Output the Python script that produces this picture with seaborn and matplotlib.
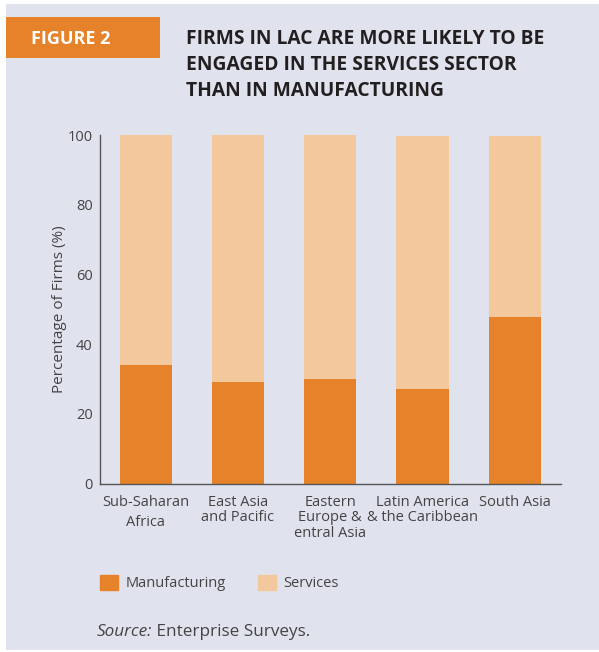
import matplotlib
matplotlib.use("Agg")
import matplotlib.pyplot as plt
import matplotlib.patches as mpatches
import seaborn as sns
import pandas as pd

# ---- data ----
regions = ["Sub-Saharan\nAfrica", "East Asia\nand Pacific", "Eastern\nEurope &\nentral Asia",
           "Latin America\n& the Caribbean", "South Asia"]
manufacturing = [34.0, 29.1, 30.0, 27.1, 47.8]
services = [66.0, 70.9, 70.0, 72.7, 52.0]
y_ticks = [0, 20, 40, 60, 80, 100]

C_MAN = "#E6822A"
C_SER = "#F4C89D"
BG = "#E0E3EE"
TXT = "#444444"

sns.set_style("white")
plt.rcParams["font.family"] = ["Open Sans", "DejaVu Sans"]

df = pd.DataFrame({"region": regions,
                   "Manufacturing": manufacturing,
                   "Services": services})
df["total"] = df["Manufacturing"] + df["Services"]

W, H = 599, 652
fig = plt.figure(figsize=(W / 100, H / 100), dpi=100)
fig.patch.set_facecolor("white")
# background panel
fig.patches.append(mpatches.Rectangle((6 / W, 1 - 650 / H), 1, (650 - 4) / H,
                                      transform=fig.transFigure, facecolor=BG,
                                      edgecolor="none", zorder=-10))
# orange header box
fig.patches.append(mpatches.Rectangle((6 / W, 1 - 58 / H), (160 - 6) / W, (58 - 17) / H,
                                      transform=fig.transFigure, facecolor=C_MAN,
                                      edgecolor="none", zorder=-5))
fig.text(31 / W, 1 - 39 / H, "FIGURE 2", color="white", fontsize=13,
         fontweight="bold", va="center", ha="left", zorder=2)

title_lines = ["FIRMS IN LAC ARE MORE LIKELY TO BE",
               "ENGAGED IN THE SERVICES SECTOR",
               "THAN IN MANUFACTURING"]
for i, line in enumerate(title_lines):
    fig.text(186 / W, 1 - (39.5 + 25.5 * i) / H, line, color="#231F20",
             fontsize=13.9, fontweight="bold", va="center", ha="left")

ax = fig.add_axes([99.5 / W, 1 - 483.5 / H, (561 - 99.5) / W, (483.5 - 135.3) / H])
ax.set_facecolor("none")

sns.barplot(data=df, x="region", y="total", color=C_SER, width=0.565,
            saturation=1, ax=ax, label="Services", linewidth=0, edgecolor="none")
sns.barplot(data=df, x="region", y="Manufacturing", color=C_MAN, width=0.565,
            saturation=1, ax=ax, label="Manufacturing", linewidth=0, edgecolor="none")
if ax.get_legend() is not None:
    ax.get_legend().remove()

ax.set_xlim(-0.5, 4.5)
ax.set_ylim(0, 100)
ax.set_yticks(y_ticks)
ax.set_yticklabels([str(v) for v in y_ticks])
ax.set_xlabel("")
ax.set_ylabel("Percentage of Firms (%)", color=TXT, fontsize=11, labelpad=0.5)
ax.tick_params(axis="both", length=0, colors=TXT, labelsize=10.5)
ax.tick_params(axis="y", pad=5)
ax.tick_params(axis="x", pad=8)
for lbl in ax.get_xticklabels():
    lbl.set_linespacing(1.05)
ax.get_xticklabels()[0].set_linespacing(1.45)

for s in ["top", "right"]:
    ax.spines[s].set_visible(False)
for s in ["left", "bottom"]:
    ax.spines[s].set_color("#555555")
    ax.spines[s].set_linewidth(1.0)

# legend
handles = [mpatches.Patch(color=C_MAN, label="Manufacturing"),
           mpatches.Patch(color=C_SER, label="Services")]
leg = fig.legend(handles=handles, loc="center left",
                 bbox_to_anchor=(100 / W, 1 - 583 / H), ncol=2, frameon=False,
                 fontsize=10.5, handlelength=1.25, handleheight=1.25,
                 handletextpad=0.5, columnspacing=2.2, borderpad=0, borderaxespad=0)
for t in leg.get_texts():
    t.set_color(TXT)

# source line
src = fig.text(97 / W, 1 - 632 / H, "Source:", style="italic", color=TXT,
               fontsize=12.3, va="center", ha="left")
ax.annotate(" Enterprise Surveys.", xy=(1, 0.5), xycoords=src, va="center",
            ha="left", color=TXT, fontsize=12.3, annotation_clip=False)

fig.savefig("out.png", dpi=100, facecolor=fig.get_facecolor())
